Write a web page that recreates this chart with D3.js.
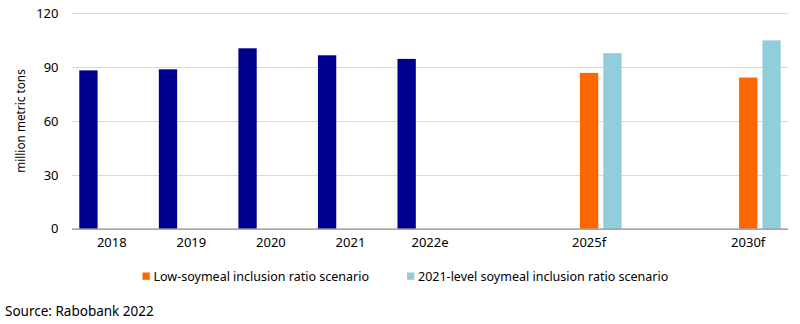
<!DOCTYPE html>
<html>
<head>
<meta charset="utf-8">
<script src="https://cdn.jsdelivr.net/npm/d3@7"></script>
<style>
  html, body { margin: 0; padding: 0; background: #fff; }
  text { font-family: "Noto Sans", "Open Sans", sans-serif; fill: #000; }
</style>
</head>
<body>
<svg id="chart" width="800" height="324"></svg>
<script>
// Categories (blank slots keep the gaps between actuals and forecasts)
const categories = ["2018", "2019", "2020", "2021", "2022e", "gap1", "2025f", "gap2", "2030f"];
const categoryLabels = ["2018", "2019", "2020", "2021", "2022e", "", "2025f", "", "2030f"];

// Series values, million metric tons (null = no bar)
const historical   = [88.2, 88.8, 100.5, 96.6, 94.6, null, null, null, null];
const lowSoymeal   = [null, null, null, null, null, null, 86.8, null, 84.2];
const level2021    = [null, null, null, null, null, null, 97.8, null, 104.9];

const seriesNames  = ["Historical", "Low-soymeal inclusion ratio scenario", "2021-level soymeal inclusion ratio scenario"];
const seriesValues = [historical, lowSoymeal, level2021];
const seriesColors = ["#00008f", "#ff6600", "#92cddc"];

const yTicks = [0, 30, 60, 90, 120];

const svg = d3.select("#chart");
const margin = { left: 72, right: 12, top: 13.3, bottom: 95.3 };
const W = 800, H = 324;

const x0 = d3.scaleBand()
  .domain(categories)
  .range([margin.left, W - margin.right])
  .paddingInner(0.183)
  .paddingOuter(0.0915);

const x1 = d3.scaleBand()
  .domain(d3.range(seriesNames.length))
  .range([0, x0.bandwidth()])
  .paddingInner(0.215);

const y = d3.scaleLinear()
  .domain([0, 120])
  .range([H - margin.bottom, margin.top]);

// Gridlines
svg.append("g")
  .selectAll("line")
  .data(yTicks.filter(d => d > 0))
  .join("line")
  .attr("x1", margin.left)
  .attr("x2", W - margin.right)
  .attr("y1", d => Math.round(y(d)) + 0.5)
  .attr("y2", d => Math.round(y(d)) + 0.5)
  .attr("stroke", "#d9d9d9")
  .attr("stroke-width", 1);

// Y tick labels
const yAxis = d3.axisLeft(y).tickValues(yTicks).tickSize(0).tickPadding(13.5);
const gy = svg.append("g")
  .attr("transform", `translate(${margin.left},0)`)
  .call(yAxis);
gy.select(".domain").remove();
gy.selectAll("text").style("font-size", "13px").attr("fill", "#000");

// Bars
const rows = [];
seriesValues.forEach((vals, s) => {
  vals.forEach((v, i) => {
    if (v !== null) rows.push({ cat: categories[i], s, v });
  });
});
svg.append("g")
  .selectAll("rect")
  .data(rows)
  .join("rect")
  .attr("x", d => x0(d.cat) + x1(d.s))
  .attr("width", x1.bandwidth())
  .attr("y", d => y(d.v))
  .attr("height", d => y(0) - y(d.v))
  .attr("fill", d => seriesColors[d.s]);

// X axis
const xAxis = d3.axisBottom(x0)
  .tickSize(0)
  .tickPadding(9)
  .tickFormat((d, i) => categoryLabels[i]);
const gx = svg.append("g")
  .attr("transform", `translate(0,${y(0)})`)
  .call(xAxis);
gx.select(".domain")
  .attr("d", `M${margin.left},0.5H${W - margin.right}`)
  .attr("stroke", "#898989")
  .attr("stroke-width", 1.2);
gx.selectAll("text").style("font-size", "13px").attr("fill", "#000");

// Y axis title
svg.append("text")
  .attr("transform", `translate(24.5,121) rotate(-90)`)
  .attr("text-anchor", "middle")
  .style("font-size", "11.8px")
  .text("million metric tons");

// Legend (forecast scenarios only)
const legendItems = [
  { name: seriesNames[1], color: seriesColors[1], x: 142.5 },
  { name: seriesNames[2], color: seriesColors[2], x: 407 }
];
const lg = svg.append("g")
  .selectAll("g")
  .data(legendItems)
  .join("g")
  .attr("transform", d => `translate(${d.x},272.5)`);
lg.append("rect").attr("width", 7.3).attr("height", 7.3).attr("fill", d => d.color);
lg.append("text")
  .attr("x", 11)
  .attr("y", 8)
  .style("font-size", "12.5px")
  .text(d => d.name);

// Source note
svg.append("text")
  .attr("x", 5)
  .attr("y", 316)
  .style("font-size", "13.5px")
  .text("Source: Rabobank 2022");
</script>
</body>
</html>
